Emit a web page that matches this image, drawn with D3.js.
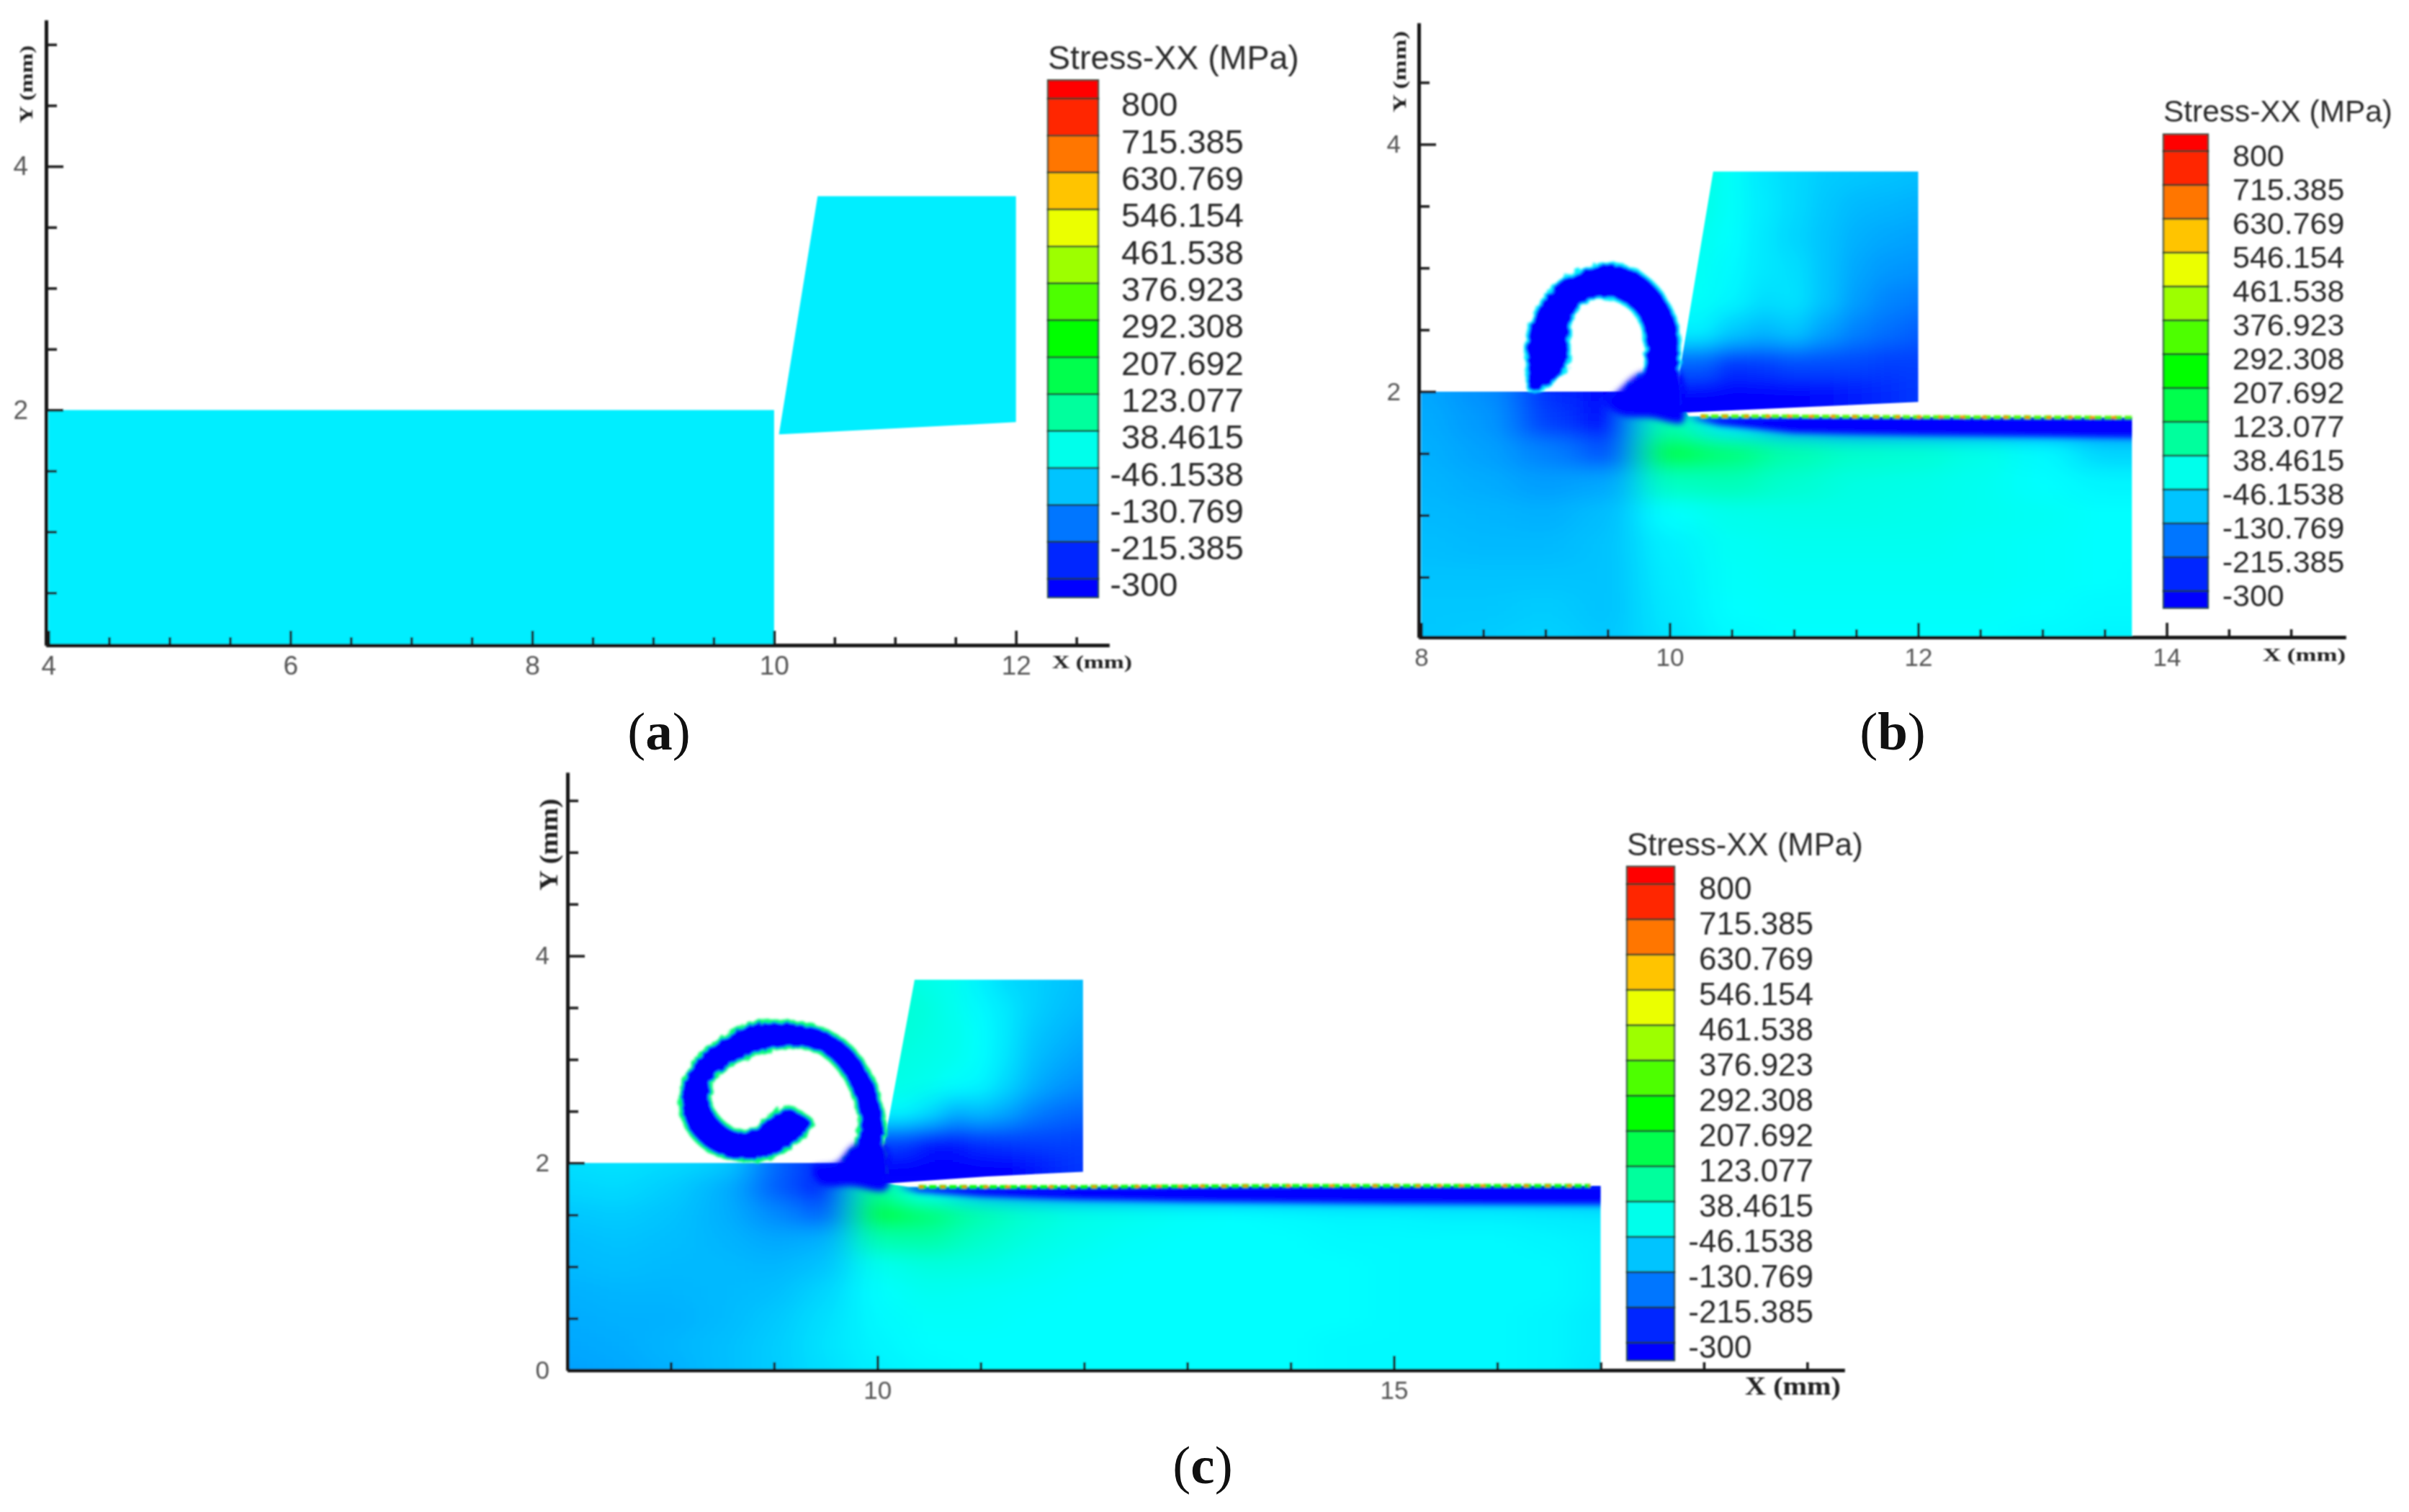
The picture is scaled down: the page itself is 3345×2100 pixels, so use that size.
<!DOCTYPE html>
<html>
<head>
<meta charset="utf-8">
<title>Stress-XX</title>
<script src="https://cdnjs.cloudflare.com/ajax/libs/d3/7.8.5/d3.min.js"></script>
<style>
  html, body { margin: 0; background: #fff; }
  svg { display: block; }
  text { font-family: "Liberation Sans", Arial, sans-serif; }
</style>
</head>
<body>
<div id="chart"></div>
<script>
'use strict';

// legend
var levels = [800, 715.385, 630.769, 546.154, 461.538, 376.923, 292.308, 207.692, 123.077, 38.4615, -46.1538, -130.769, -215.385, -300];
var levelLabels = ['800', '715.385', '630.769', '546.154', '461.538', '376.923', '292.308', '207.692', '123.077', '38.4615', '-46.1538', '-130.769', '-215.385', '-300'];
var rainbowStops = [-300, -25, 250, 525, 800];
var rainbowColors = ['#0000ff', '#00ffff', '#00ff00', '#ffff00', '#ff0000'];

// panel a: undeformed, one stress value everywhere
var stressA = -43;
var workpieceA = [[4, 0], [4, 2], [10, 2], [10, 0]];
var toolA = [[10.04, 1.8], [10.36, 3.755], [12, 3.755], [12, 1.9]];

// panel b: workpiece stress, rows from y = 2.25 down to y = -0.25
var gridXB = [7.5, 8, 8.5, 9, 9.5, 10, 10.5, 11, 11.5, 12, 12.5, 13, 13.5, 14];
var gridYB = [2.25, 2, 1.75, 1.5, 1.25, 1, 0.75, 0.5, 0.25, 0, -0.25];
var fieldB = [
  [-120, -120, -145, -250, -300, -300, -300, -300, -300, -300, -300, -300, -300, -300],
  [-120, -120, -145, -250, -300, -300, -300, -300, -300, -300, -300, -300, -300, -300],
  [-115, -115, -135, -230, -300, 60, -60, -150, -220, -220, -220, -220, -220, -220],
  [-110, -110, -125, -160, -210, 170, 120, 60, 30, 20, 0, -30, -70, -70],
  [-105, -105, -115, -130, -120, 40, 50, 25, 5, 0, -10, -25, -35, -35],
  [-100, -100, -105, -110, -95, -25, -5, 0, 0, -5, -10, -15, -25, -25],
  [-95, -95, -100, -100, -90, -40, -15, -10, -10, -10, -15, -20, -25, -25],
  [-90, -90, -90, -90, -90, -45, -20, -15, -15, -15, -15, -20, -25, -30],
  [-85, -85, -85, -80, -90, -50, -25, -20, -20, -20, -20, -25, -30, -30],
  [-85, -85, -80, -75, -85, -55, -30, -25, -25, -25, -25, -30, -35, -35],
  [-85, -85, -80, -75, -85, -55, -30, -25, -25, -25, -25, -30, -35, -35]
];
var gridXToolB = [10, 10.25, 10.5, 10.75, 11, 11.25, 11.5, 11.75, 12, 12.25];
var gridYToolB = [4, 3.75, 3.5, 3.25, 3, 2.75, 2.5, 2.25, 2, 1.75];
var fieldToolB = [
  [5, 5, -20, -50, -65, -80, -85, -90, -95, -95],
  [5, 5, -20, -50, -65, -80, -85, -90, -95, -95],
  [0, 0, -20, -45, -65, -85, -100, -105, -110, -110],
  [-10, -10, -25, -50, -70, -90, -110, -120, -125, -125],
  [-15, -15, -30, -50, -60, -90, -120, -135, -140, -140],
  [-20, -20, -35, -60, -55, -90, -130, -155, -165, -165],
  [-40, -40, -80, -100, -85, -125, -160, -180, -195, -195],
  [-190, -190, -240, -230, -215, -215, -220, -230, -230, -230],
  [-300, -300, -300, -300, -300, -290, -270, -255, -240, -240],
  [-300, -300, -300, -300, -300, -300, -280, -255, -240, -240]
];
var workpieceB = [[8, 0], [8, 2], [10.05, 2], [10.15, 1.8], [13.72, 1.79], [13.72, 0]];
var toolB = [[10.08, 2.16], [10.35, 3.78], [12, 3.78], [12, 1.917], [10.08, 1.83]];
var chipB = [[8.867, 2.01], [8.849, 2.19], [8.849, 2.44], [8.941, 2.69], [9.125, 2.9], [9.384, 3.02], [9.531, 3.04], [9.753, 2.97], [9.937, 2.8], [10.05, 2.58], [10.085, 2.36], [10.066, 2.11], [10.08, 1.95], [10.02, 1.86], [9.85, 1.88], [9.72, 1.95], [9.66, 2.02], [9.753, 2.11], [9.808, 2.33], [9.753, 2.58], [9.642, 2.7], [9.458, 2.76], [9.292, 2.7], [9.2, 2.52], [9.18, 2.22], [9.05, 2.06], [8.92, 2]];
var rootB = [[9.58, 2.0], [9.76, 2.15], [10.07, 2.17], [10.12, 1.85], [10.1, 1.75], [9.85, 1.79], [9.6, 1.82], [9.5, 1.92]];
var shearB = [[10.15, 1.79], [11, 1.8], [12, 1.795], [13.8, 1.79], [13.8, 1.63], [12, 1.65], [11, 1.67], [10.4, 1.73]];
var surfaceB = [[10.25, 1.8], [11, 1.8], [12, 1.795], [13.72, 1.79]];

// panel c: workpiece stress, rows from y = 2.25 down to y = -0.25
var gridXC = [6.5, 7, 7.5, 8, 8.5, 9, 9.5, 10, 10.5, 11, 11.5, 12, 12.5, 13, 13.5, 14, 14.5, 15, 15.5, 16, 16.5, 17, 17.5];
var gridYC = [2.25, 2, 1.75, 1.5, 1.25, 1, 0.75, 0.5, 0.25, 0, -0.25];
var fieldC = [
  [-60, -60, -55, -65, -80, -190, -300, -300, -300, -300, -300, -300, -300, -300, -300, -300, -300, -300, -300, -300, -300, -300, -300],
  [-60, -60, -55, -65, -80, -190, -300, -300, -300, -300, -300, -300, -300, -300, -300, -300, -300, -300, -300, -300, -300, -300, -300],
  [-70, -70, -65, -80, -110, -200, -300, 100, -20, -120, -180, -220, -220, -220, -220, -220, -220, -220, -220, -220, -220, -220, -220],
  [-85, -85, -80, -90, -110, -150, -200, 200, 130, 60, 20, 0, -10, -20, -25, -30, -35, -35, -40, -40, -45, -50, -50],
  [-95, -95, -90, -95, -105, -120, -110, 60, 70, 30, 5, -10, -20, -25, -25, -25, -30, -30, -30, -30, -35, -40, -40],
  [-100, -100, -95, -100, -100, -105, -90, -10, 10, 5, -10, -20, -25, -25, -25, -25, -25, -30, -30, -30, -30, -40, -40],
  [-110, -110, -105, -105, -100, -95, -70, -25, -10, -15, -20, -25, -25, -25, -25, -25, -25, -30, -30, -30, -30, -40, -40],
  [-115, -115, -110, -110, -100, -85, -60, -30, -20, -20, -25, -25, -25, -25, -25, -25, -25, -30, -30, -30, -35, -45, -45],
  [-120, -120, -115, -105, -95, -80, -55, -35, -25, -25, -25, -25, -25, -25, -25, -25, -30, -30, -30, -30, -35, -45, -45],
  [-125, -125, -120, -110, -95, -80, -60, -40, -30, -25, -25, -25, -25, -25, -25, -25, -30, -30, -30, -30, -35, -50, -50],
  [-125, -125, -120, -110, -95, -80, -60, -40, -30, -25, -25, -25, -25, -25, -25, -25, -30, -30, -30, -30, -35, -50, -50]
];
var gridXToolC = [10, 10.25, 10.5, 10.75, 11, 11.25, 11.5, 11.75, 12, 12.25];
var gridYToolC = [4, 3.75, 3.5, 3.25, 3, 2.75, 2.5, 2.25, 2, 1.75];
var fieldToolC = [
  [10, 10, 0, -10, -40, -65, -75, -85, -95, -95],
  [10, 10, 0, -10, -40, -65, -75, -85, -95, -95],
  [20, 20, 10, -10, -30, -50, -75, -90, -100, -100],
  [15, 15, 5, -5, -25, -50, -85, -100, -115, -115],
  [5, 5, 0, -10, -25, -55, -95, -115, -130, -130],
  [0, 0, -10, -25, -35, -70, -110, -135, -150, -150],
  [-30, -30, -60, -110, -95, -120, -160, -180, -190, -190],
  [-220, -220, -270, -270, -240, -230, -225, -225, -230, -230],
  [-300, -300, -300, -300, -300, -300, -280, -255, -240, -240],
  [-300, -300, -300, -300, -300, -300, -290, -255, -240, -240]
];
var workpieceC = [[7, 0], [7, 2], [9.8, 2], [10.1, 1.8], [10.3, 1.77], [12, 1.77], [17, 1.78], [17, 0]];
var toolC = [[10.06, 2.16], [10.36, 3.77], [11.99, 3.77], [11.99, 1.916], [11.06, 1.87], [10.06, 1.8]];
var chipC = [[10.06, 2.134], [10.08, 2.32], [10.04, 2.57], [9.94, 2.85], [9.74, 3.13], [9.46, 3.3], [9.1, 3.37], [8.78, 3.35], [8.46, 3.19], [8.22, 2.97], [8.1, 2.72], [8.12, 2.41], [8.26, 2.2], [8.46, 2.07], [8.74, 2.02], [9.02, 2.07], [9.22, 2.2], [9.38, 2.38], [9.26, 2.49], [9.1, 2.54], [8.96, 2.46], [8.82, 2.35], [8.7, 2.3], [8.54, 2.37], [8.42, 2.51], [8.38, 2.66], [8.46, 2.85], [8.66, 2.99], [8.94, 3.08], [9.26, 3.11], [9.46, 3.05], [9.64, 2.88], [9.76, 2.66], [9.82, 2.41], [9.78, 2.16], [9.68, 2.03], [9.74, 1.92], [9.85, 1.85], [10.02, 1.85], [10.08, 1.95]];
var rootC = [[9.6, 2.0], [9.78, 2.18], [10.06, 2.18], [10.12, 1.9], [10.08, 1.74], [9.75, 1.78], [9.45, 1.8], [9.38, 1.95]];
var shearC = [[10.2, 1.77], [12, 1.77], [14, 1.78], [17.2, 1.78], [17.2, 1.6], [15, 1.61], [13, 1.63], [12, 1.65], [11, 1.68], [10.4, 1.72]];
var surfaceC = [[10.4, 1.77], [12, 1.77], [14, 1.78], [16.9, 1.78]];

// axis ticks
var xMajorA = [4, 6, 8, 10, 12];
var xMinorA = [4.5, 5, 5.5, 6.5, 7, 7.5, 8.5, 9, 9.5, 10.5, 11, 11.5, 12.5];
var yMajorA = [2, 4];
var yMinorA = [0.5, 1, 1.5, 2.5, 3, 3.5, 4.5, 5];
var xMajorB = [8, 10, 12, 14];
var xMinorB = [8.5, 9, 9.5, 10.5, 11, 11.5, 12.5, 13, 13.5, 14.5, 15];
var yMajorB = [2, 4];
var yMinorB = [0.5, 1, 1.5, 2.5, 3, 3.5, 4.5];
var xMajorC = [10, 15];
var xMinorC = [8, 9, 11, 12, 13, 14, 16, 17, 18, 19];
var yMajorC = [0, 2, 4];
var yMinorC = [0.5, 1, 1.5, 2.5, 3, 3.5, 4.5, 5, 5.5];

var width = 3345, height = 2100;

var stress = d3.scaleLinear().domain(rainbowStops).range(rainbowColors).clamp(true);

var svg = d3.select('#chart').append('svg')
    .attr('width', width)
    .attr('height', height)
    .style('background', '#fff');

var defs = svg.append('defs');

function blurFilter(id, dev) {
  defs.append('filter')
      .attr('id', id)
      .attr('filterUnits', 'userSpaceOnUse')
      .attr('x', 0).attr('y', 0)
      .attr('width', width).attr('height', height)
      .append('feGaussianBlur')
      .attr('stdDeviation', dev);
}
blurFilter('blurField', '26 13');
blurFilter('blurTool', '15 15');
blurFilter('blurShear', 4);
blurFilter('blurEdge', 1.2);
blurFilter('blurAll', 0.9);

// rough edge of the chip
var rough = defs.append('filter')
    .attr('id', 'roughChip')
    .attr('filterUnits', 'userSpaceOnUse')
    .attr('x', 0).attr('y', 0)
    .attr('width', width).attr('height', height);
rough.append('feTurbulence')
    .attr('type', 'fractalNoise')
    .attr('baseFrequency', 0.09)
    .attr('numOctaves', 2)
    .attr('seed', 4)
    .attr('result', 'noise');
rough.append('feDisplacementMap')
    .attr('in', 'SourceGraphic')
    .attr('in2', 'noise')
    .attr('scale', 9)
    .attr('result', 'moved');
rough.append('feGaussianBlur')
    .attr('in', 'moved')
    .attr('stdDeviation', 1.6);

// everything but the captions has the soft look of the scanned plot
var root = svg.append('g').attr('filter', 'url(#blurAll)');
var clipCount = 0;

function polygonPath(x, y, pts) {
  return d3.line().x(function(d) { return x(d[0]); }).y(function(d) { return y(d[1]); })(pts) + 'Z';
}

// stress cells, one rect per grid node, blurred and cut to the outline
function drawField(g, x, y, outline, gx, gy, field, filterId) {
  var id = 'clip' + (clipCount++);
  defs.append('clipPath').attr('id', id)
      .append('path').attr('d', polygonPath(x, y, outline));

  var cells = [];
  field.forEach(function(row, r) {
    row.forEach(function(v, c) {
      cells.push({x: gx[c], y: gy[r], v: v, dx: gx[1] - gx[0], dy: gy[0] - gy[1]});
    });
  });

  var clipped = g.append('g').attr('clip-path', 'url(#' + id + ')');
  clipped.append('g')
      .attr('filter', 'url(#' + filterId + ')')
      .selectAll('rect')
      .data(cells).enter()
      .append('rect')
      .attr('x', function(d) { return x(d.x - d.dx / 2); })
      .attr('y', function(d) { return y(d.y + d.dy / 2); })
      .attr('width', function(d) { return x(d.x + d.dx / 2) - x(d.x - d.dx / 2) + 1; })
      .attr('height', function(d) { return y(d.y - d.dy / 2) - y(d.y + d.dy / 2) + 1; })
      .attr('fill', function(d) { return stress(d.v); });
  return clipped;
}

function drawAxes(g, p) {
  var xAxis = d3.axisBottom(p.x).tickValues(p.xMajor).tickSizeOuter(0).tickSizeInner(-20).tickPadding(15).tickFormat(d3.format('d'));
  var xMinor = d3.axisBottom(p.x).tickValues(p.xMinor).tickSizeOuter(0).tickSizeInner(-11).tickFormat('');
  var yAxis = d3.axisLeft(p.y).tickValues(p.yMajor).tickSizeOuter(0).tickSizeInner(-24).tickPadding(25).tickFormat(d3.format('d'));
  var yMinor = d3.axisLeft(p.y).tickValues(p.yMinor).tickSizeOuter(0).tickSizeInner(-15).tickFormat('');

  var bottom = p.y.range()[0], left = p.x.range()[0];
  [[xAxis, 'translate(0,' + bottom + ')'], [xMinor, 'translate(0,' + bottom + ')'],
   [yAxis, 'translate(' + left + ',0)'], [yMinor, 'translate(' + left + ',0)']].forEach(function(a) {
    var ax = g.append('g').attr('transform', a[1]).call(a[0]);
    ax.select('.domain').attr('stroke', '#161616').attr('stroke-width', 5);
    ax.selectAll('.tick line').attr('stroke', '#161616').attr('stroke-width', 3.5);
    ax.selectAll('.tick text')
      .attr('fill', '#555')
      .style('font-family', '"Liberation Sans", Arial, sans-serif')
      .style('font-size', p.tickFont + 'px');
  });

  g.append('text')
      .attr('x', p.xTitle[0]).attr('y', p.xTitle[1])
      .attr('textLength', p.xTitle[2]).attr('lengthAdjust', 'spacingAndGlyphs')
      .style('font-family', '"Liberation Serif", serif')
      .style('font-weight', 'bold')
      .style('font-size', p.titleFont + 'px')
      .attr('fill', '#222')
      .text('X (mm)');
  g.append('text')
      .attr('transform', 'translate(' + p.yTitle[0] + ',' + p.yTitle[1] + ') rotate(-90)')
      .attr('textLength', p.yTitle[2]).attr('lengthAdjust', 'spacingAndGlyphs')
      .style('font-family', '"Liberation Serif", serif')
      .style('font-weight', 'bold')
      .style('font-size', p.titleFont + 'px')
      .attr('fill', '#222')
      .text('Y (mm)');
}

function drawLegend(g, l) {
  var y = d3.scaleLinear().domain([-300, 800]).range([l.y0, l.y1]);
  var step = levels[0] - levels[1];
  var edges = [levels[0] + step / 2].concat(levels, [levels[levels.length - 1] - step / 2]);
  var bands = d3.pairs(edges);

  g.selectAll('rect.band')
      .data(bands).enter()
      .append('rect')
      .attr('class', 'band')
      .attr('x', l.x)
      .attr('width', l.w)
      .attr('y', function(d) { return y(d[0]); })
      .attr('height', function(d) { return y(d[1]) - y(d[0]); })
      .attr('fill', function(d) { return stress((d[0] + d[1]) / 2); })
      .attr('stroke', '#1c3a2c')
      .attr('stroke-opacity', 0.8)
      .attr('stroke-width', 2.5);

  g.selectAll('text.level')
      .data(levelLabels).enter()
      .append('text')
      .attr('class', 'level')
      .attr('x', function(d) { return d.charAt(0) === '-' ? l.labelX - l.font * 0.333 : l.labelX; })
      .attr('y', function(d, i) { return y(levels[i]) + l.labelOffset; })
      .attr('dy', '0.35em')
      .attr('fill', '#2a2a2a')
      .style('font-size', l.font + 'px')
      .text(function(d) { return d; });

  g.append('text')
      .attr('x', l.x)
      .attr('y', l.titleY)
      .attr('fill', '#2a2a2a')
      .style('font-size', l.titleFont + 'px')
      .text('Stress-XX (MPa)');
}

function drawCaption(letter, cx, baseline) {
  var t = svg.append('text')
      .attr('x', cx).attr('y', baseline)
      .attr('text-anchor', 'middle')
      .attr('fill', '#111')
      .style('font-family', '"Liberation Serif", serif')
      .style('font-size', '75px');
  t.append('tspan').text('(');
  t.append('tspan').style('font-weight', 'bold').text(letter);
  t.append('tspan').text(')');
}

function drawDeformed(g, p) {
  var wp = drawField(g, p.x, p.y, p.workpiece, p.gridX, p.gridY, p.field, 'blurField');
  var line = d3.line().x(function(d) { return p.x(d[0]); }).y(function(d) { return p.y(d[1]); });

  // compressed layer under the cut surface
  wp.append('path')
      .attr('d', polygonPath(p.x, p.y, p.shear))
      .attr('fill', stress(-300))
      .attr('filter', 'url(#blurShear)');

  // speckled rim on the cut surface
  g.append('path')
      .attr('d', line(p.surface))
      .attr('fill', 'none')
      .attr('stroke', stress(p.rim))
      .attr('stroke-width', 5)
      .attr('stroke-dasharray', '11 3')
      .attr('filter', 'url(#blurEdge)');
  g.append('path')
      .attr('d', line(p.surface))
      .attr('fill', 'none')
      .attr('stroke', stress(640))
      .attr('stroke-width', 4)
      .attr('stroke-dasharray', '7 23')
      .attr('filter', 'url(#blurEdge)');

  drawField(g, p.x, p.y, p.tool, p.gridXTool, p.gridYTool, p.fieldTool, 'blurTool');

  var smooth = d3.line().x(function(d) { return p.x(d[0]); }).y(function(d) { return p.y(d[1]); }).curve(d3.curveCatmullRomClosed.alpha(0.5));
  g.append('path')
      .attr('d', smooth(p.chip))
      .attr('fill', stress(-300))
      .attr('stroke', stress(p.chipEdge))
      .attr('stroke-width', p.chipEdgeWidth)
      .attr('filter', 'url(#roughChip)');
  // root of the chip runs into the blue of tool and workpiece, no rim there
  g.append('path')
      .attr('d', smooth(p.root))
      .attr('fill', stress(-300))
      .attr('filter', 'url(#blurShear)');
}

// panel a
var pa = {
  x: d3.scaleLinear().domain([3.98, 12.77]).range([64, 1540]),
  y: d3.scaleLinear().domain([0.07, 5.2]).range([896, 28]),
  xMajor: xMajorA, xMinor: xMinorA, yMajor: yMajorA, yMinor: yMinorA,
  tickFont: 37, titleFont: 26,
  xTitle: [1461, 928, 111], yTitle: [45, 171, 108]
};
var ga = root.append('g');
ga.append('path').attr('d', polygonPath(pa.x, pa.y, workpieceA.map(function(d) { return [d[0], Math.max(d[1], 0.07)]; }))).attr('fill', stress(stressA));
ga.append('path').attr('d', polygonPath(pa.x, pa.y, toolA)).attr('fill', stress(stressA));
drawAxes(root.append('g'), pa);
drawLegend(root.append('g'), {x: 1455, w: 70, y0: 804, y1: 137, labelX: 1557, labelOffset: 8, font: 47, titleFont: 46.5, titleY: 96});
drawCaption('a', 915, 1041);

// panel b
var pb = {
  x: d3.scaleLinear().domain([7.98, 15.44]).range([1970, 3257]),
  y: d3.scaleLinear().domain([0.015, 4.98]).range([885, 32]),
  xMajor: xMajorB, xMinor: xMinorB, yMajor: yMajorB, yMinor: yMinorB,
  tickFont: 35, titleFont: 26,
  xTitle: [3142, 918, 115], yTitle: [1952, 156, 113],
  workpiece: workpieceB.map(function(d) { return [d[0], Math.max(d[1], 0.015)]; }),
  gridX: gridXB, gridY: gridYB, field: fieldB,
  tool: toolB, gridXTool: gridXToolB, gridYTool: gridYToolB, fieldTool: fieldToolB,
  chip: chipB, root: rootB, shear: shearB, surface: surfaceB,
  rim: 330, chipEdge: -40, chipEdgeWidth: 3.5
};
drawDeformed(root.append('g'), pb);
drawAxes(root.append('g'), pb);
drawLegend(root.append('g'), {x: 3004, w: 62, y0: 821, y1: 210, labelX: 3100, labelOffset: 6, font: 43, titleFont: 42.4, titleY: 169});
drawCaption('b', 2628, 1041);

// panel c
var pc = {
  x: d3.scaleLinear().domain([7, 19.36]).range([788, 2561]),
  y: d3.scaleLinear().domain([0, 5.77]).range([1903, 1073]),
  xMajor: xMajorC, xMinor: xMinorC, yMajor: yMajorC, yMinor: yMinorC,
  tickFont: 35, titleFont: 36,
  xTitle: [2423, 1937, 133], yTitle: [774, 1237, 128],
  workpiece: workpieceC,
  gridX: gridXC, gridY: gridYC, field: fieldC,
  tool: toolC, gridXTool: gridXToolC, gridYTool: gridYToolC, fieldTool: fieldToolC,
  chip: chipC, root: rootC, shear: shearC, surface: surfaceC,
  rim: 250, chipEdge: 130, chipEdgeWidth: 4
};
drawDeformed(root.append('g'), pc);
drawAxes(root.append('g'), pc);
drawLegend(root.append('g'), {x: 2259, w: 66, y0: 1865, y1: 1228, labelX: 2359, labelOffset: 6, font: 44, titleFont: 43.7, titleY: 1188});
drawCaption('c', 1670, 2060);
</script>
</body>
</html>
